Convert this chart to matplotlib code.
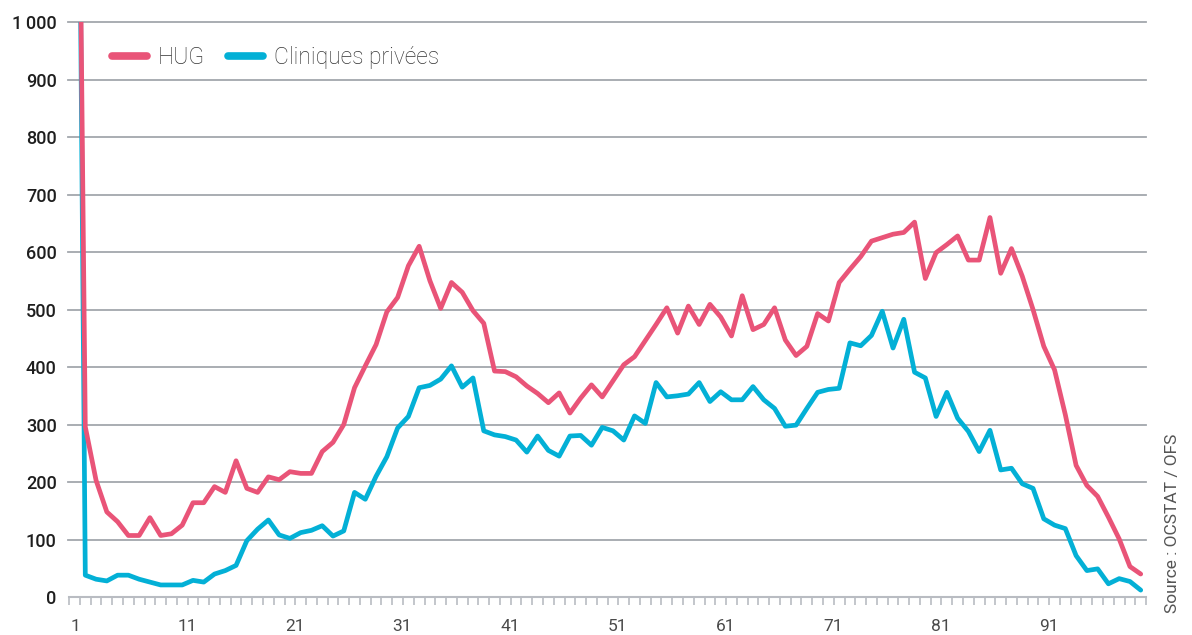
import numpy as np
import matplotlib
matplotlib.use("Agg")
import matplotlib.pyplot as plt
from matplotlib.lines import Line2D

plt.rcParams['font.family'] = ['Roboto', 'DejaVu Sans']

# nombre de patients par âge (0 à 99 ans)
ages = list(range(100))
hug = [2100, 296, 203, 148, 131, 107, 107, 138, 107, 110,
       125, 164, 164, 192, 182, 237, 189, 182, 209, 204,
       218, 215, 215, 253, 269, 300, 364, 402, 439, 496,
       521, 576, 610, 550, 502, 547, 530, 498, 476, 393,
       392, 383, 367, 354, 338, 355, 320, 346, 369, 348,
       376, 404, 418, 446, 474, 503, 459, 506, 474, 509,
       487, 454, 524, 465, 474, 503, 447, 420, 436, 493,
       480, 547, 570, 592, 619, 625, 631, 634, 652, 554,
       599, 613, 628, 586, 586, 660, 563, 606, 558, 500,
       436, 395, 317, 229, 194, 175, 139, 101, 53, 40]
cliniques = [2300, 38, 31, 28, 38, 38, 31, 26, 21, 21,
             21, 29, 26, 40, 46, 55, 98, 118, 134, 108,
             102, 112, 116, 124, 106, 115, 182, 170, 210, 244,
             294, 314, 364, 368, 379, 402, 365, 381, 289, 282,
             279, 273, 252, 280, 255, 245, 280, 281, 264, 295,
             289, 273, 315, 302, 373, 348, 350, 353, 373, 340,
             357, 343, 343, 366, 343, 328, 297, 299, 328, 356,
             361, 363, 442, 437, 455, 497, 433, 483, 391, 381,
             314, 356, 311, 288, 253, 290, 221, 224, 197, 189,
             136, 125, 119, 72, 46, 49, 23, 32, 27, 12]

x_labels = ['1', '11', '21', '31', '41', '51', '61', '71', '81', '91']
y_ticks = [0, 100, 200, 300, 400, 500, 600, 700, 800, 900, 1000]

PINK = '#e95478'
CYAN = '#03b0d6'
GRID = '#a3a7ad'
AXIS = '#b9bcc2'

fig = plt.figure(figsize=(11.92, 6.35), dpi=100)
ax = fig.add_axes([0.058, 0.0598, 0.9035, 0.9055])

ax.plot(ages, cliniques, color=CYAN, lw=3.4, solid_joinstyle='round',
        solid_capstyle='round', zorder=3)
ax.plot(ages, hug, color=PINK, lw=3.4, solid_joinstyle='round',
        solid_capstyle='round', zorder=4)

ax.set_xlim(-0.5, 99.5)
ax.set_ylim(0, 1000)

for s in ['top', 'right', 'left']:
    ax.spines[s].set_visible(False)
ax.spines['bottom'].set_color(AXIS)
ax.spines['bottom'].set_linewidth(1.5)

ax.set_yticks(y_ticks)
ax.set_yticklabels([f'{v:,}'.replace(',', '\u2009') for v in y_ticks],
                   fontsize=13, color='#1e1e1e', fontweight='medium')
ax.tick_params(axis='y', length=0, pad=9)
for v in y_ticks[1:]:
    ax.axhline(v, color=GRID, lw=1.3, zorder=1, clip_on=False,
               xmin=-0.001, xmax=1)

# petites graduations entre les catégories
ax.set_xticks(np.arange(-0.5, 100, 1), minor=True)
ax.tick_params(axis='x', which='minor', length=6, width=1.2, color=AXIS)
pos = [int(l) - 0.55 for l in x_labels]
pos[0] = 0.1
ax.set_xticks(pos)
ax.set_xticklabels(x_labels, fontsize=12.5, color='#4a4a4a')
ax.tick_params(axis='x', which='major', length=0, pad=16)

handles = [Line2D([], [], color=PINK, lw=5.5, solid_capstyle='round'),
           Line2D([], [], color=CYAN, lw=5.5, solid_capstyle='round')]
leg = ax.legend(handles, ['HUG', 'Cliniques privées'], loc='upper left',
                bbox_to_anchor=(0.021, 0.995), ncol=2, frameon=False,
                prop={'size': 16.5, 'weight': 'light'},
                handlelength=1.5, handletextpad=0.5,
                columnspacing=1.0, labelcolor='#333333')

fig.text(0.984, 0.035, 'Source : OCSTAT / OFS', rotation=90, ha='center',
         va='bottom', fontsize=12.5, color='#555555')

fig.savefig('out.png', dpi=100)
